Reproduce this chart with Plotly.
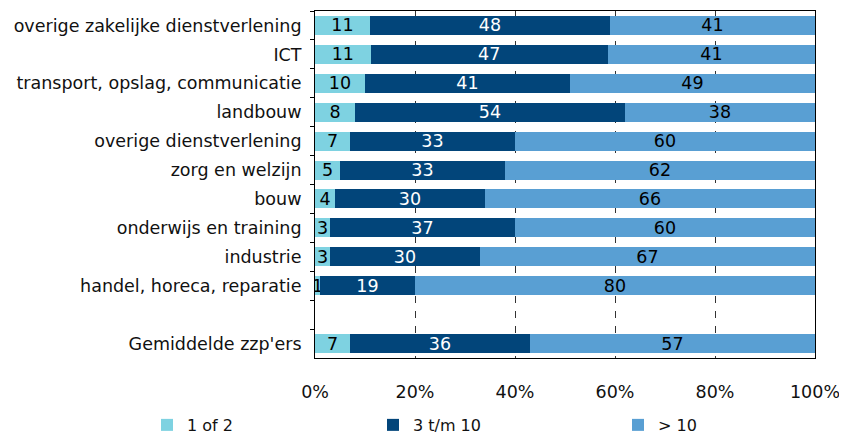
import plotly.graph_objects as go

categories = ["overige zakelijke dienstverlening", "ICT", "transport, opslag, communicatie",
              "landbouw", "overige dienstverlening", "zorg en welzijn", "bouw",
              "onderwijs en training", "industrie", "handel, horeca, reparatie", " ",
              "Gemiddelde zzp'ers"]
s1 = [11, 11, 10, 8, 7, 5, 4, 3, 3, 1, None, 7]
s2 = [48, 47, 41, 54, 33, 33, 30, 37, 30, 19, None, 36]
s3 = [41, 41, 49, 38, 60, 62, 66, 60, 67, 80, None, 57]
series_names = ["1 of 2", "3 t/m 10", "> 10"]
colors = ["#7ED2E1", "#02457A", "#599FD3"]
text_colors = ["#000000", "#FFFFFF", "#000000"]
legend_ids = ["legend", "legend2", "legend3"]
legend_x = [-0.336, 0.116, 0.606]

fig = go.Figure()
for name, vals, col, tc, lg in zip(series_names, [s1, s2, s3], colors, text_colors, legend_ids):
    fig.add_trace(go.Bar(
        y=categories, x=vals, name=name, orientation="h",
        marker=dict(color=col, line=dict(width=0)),
        text=[("" if v is None else str(v)) for v in vals],
        textposition="inside", insidetextanchor="middle", textangle=0,
        textfont=dict(color=tc, size=17.5, family="DejaVu Sans"),
        hoverinfo="skip", legend=lg,
    ))

leg_common = dict(orientation="h", y=-0.193, yanchor="middle", xanchor="left",
                  font=dict(size=16, color="#111111"), bgcolor="rgba(0,0,0,0)",
                  tracegroupgap=0)
layout_legends = {}
for lg, lx in zip(legend_ids, legend_x):
    layout_legends[lg] = dict(leg_common, x=lx)

fig.update_layout(
    barmode="stack", barnorm="percent", bargap=0.345,
    width=839, height=428,
    margin=dict(l=307, r=32, t=3, b=78, autoexpand=False),
    plot_bgcolor="white", paper_bgcolor="white",
    font=dict(family="DejaVu Sans", size=17.5, color="#111111"),
    uniformtext=dict(minsize=17, mode="show"),
    showlegend=True,
    **layout_legends,
)
fig.update_xaxes(range=[0, 100], dtick=20, ticksuffix="%", showgrid=True,
                 gridcolor="#333333", griddash="7px,8px", gridwidth=1,
                 showline=True, linecolor="#000000", linewidth=1, mirror=True,
                 ticks="", tickfont=dict(size=17.5), zeroline=False, ticklabelstandoff=18)
fig.update_yaxes(categoryorder="array", categoryarray=categories, autorange="reversed",
                 showline=True, linecolor="#000000", linewidth=1, mirror=True,
                 ticks="outside", ticklen=4, tickson="boundaries", tickcolor="#000000",
                 showgrid=False, tickfont=dict(size=17.5), ticklabelstandoff=9)

fig.write_html("out.html")
